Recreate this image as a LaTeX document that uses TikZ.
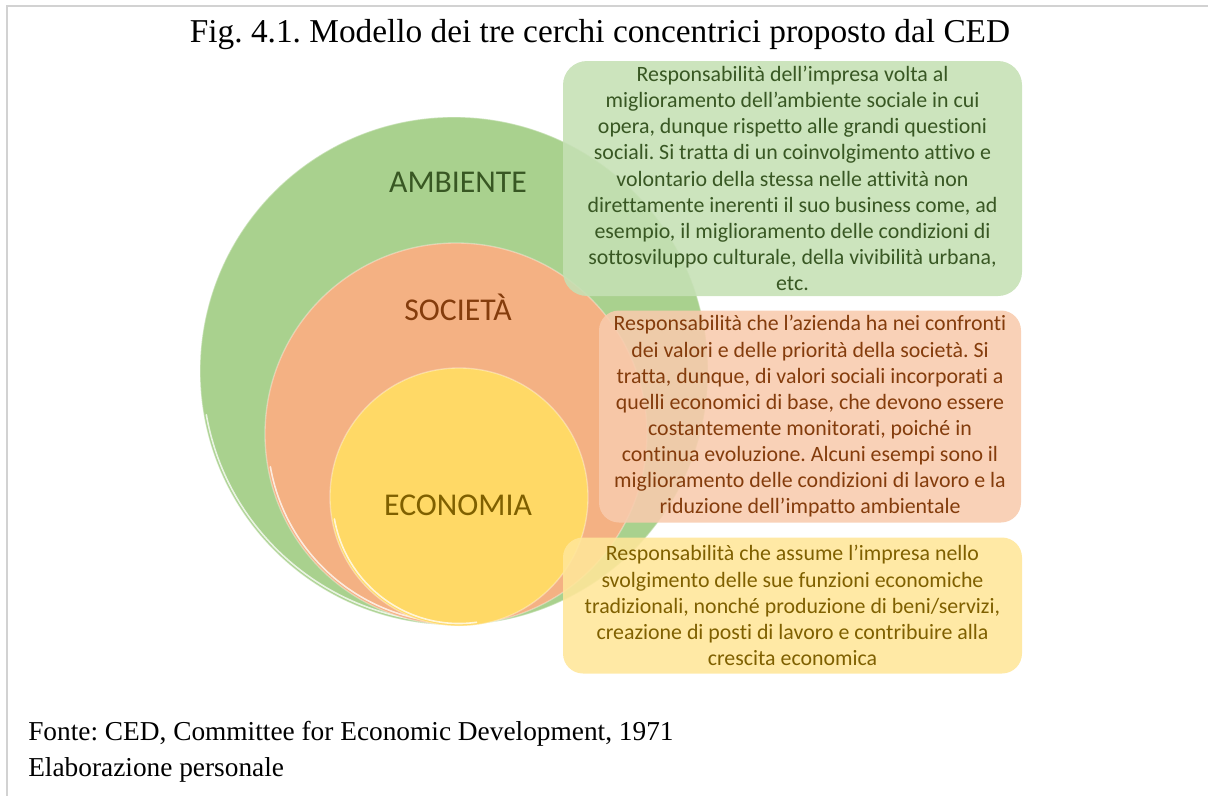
\documentclass[tikz,border=0pt]{standalone}
\usepackage{fontspec}
\setmainfont{Liberation Serif}
\newfontfamily\carlito[Ligatures=NoCommon]{Carlito}
\usetikzlibrary{positioning}
\frenchspacing

% colori dei cerchi (C), dei riquadri (B) e dei testi (T)
\definecolor{verdeC}{HTML}{A9D18E}
\definecolor{verdeB}{HTML}{C5E0B4}
\definecolor{verdeT}{HTML}{385723}
\definecolor{aranC}{HTML}{F4B183}
\definecolor{aranB}{HTML}{F8CBAD}
\definecolor{aranT}{HTML}{843C0C}
\definecolor{gialC}{HTML}{FFD966}
\definecolor{gialB}{HTML}{FFE699}
\definecolor{gialT}{HTML}{7F6000}

\tikzset{
  etichetta/.style={font=\carlito\fontsize{23.8}{28}\selectfont},
  riquadro/.style={rounded corners=18pt, align=center, fill opacity=0.88,
    text opacity=1, inner sep=0pt, font=\carlito\fontsize{16.4}{19.6}\selectfont},
  riflesso/.style={white, line width=1.2pt, opacity=0.75, line cap=round},
}

\begin{document}
\begin{tikzpicture}[x=0.75pt, y=-0.75pt]
\useasboundingbox (0,0) rectangle (1208,796);

% --- Cornice ---
\draw[gray!35, line width=1.2pt] (7,796) -- (7,6) -- (1208,6);

% --- Titolo ---
\node[font=\fontsize{25}{30}\selectfont] (titolo) at (600,35)
  {Fig. 4.1. Modello dei tre cerchi concentrici proposto dal CED};

% --- Cerchi concentrici (tangenti in basso) ---
\foreach \cx/\cy/\r/\col in {454/371/254/verdeC, 456/434/191/aranC, 459/497/129/gialC}{
    \pgfmathsetmacro\rr{\r-2.5}
    \fill[\col] (\cx,\cy) circle (\r);
    \draw[white, opacity=0.35, line width=1pt] (\cx,\cy) circle (\r);
    \draw[riflesso] (\cx,\cy) ++(170:\rr) arc[start angle=170, end angle=82, radius=\rr];
}

% --- Etichette dei cerchi ---
\node[etichetta, text=verdeT] (ambiente) at (458,182) {AMBIENTE};
\node[etichetta, text=aranT] (societa) at (458,307) {SOCIETÀ};
\node[etichetta, text=gialT] (economia) at (458,505) {ECONOMIA};

% --- Riquadri descrittivi ---
\node[riquadro, fill=verdeB, text=verdeT, minimum width=344.25pt, minimum height=176.25pt]
  (descAmb) at (792.5,178.5) {Responsabilità dell’impresa volta al\\
  miglioramento dell’ambiente sociale in cui\\
  opera, dunque rispetto alle grandi questioni\\
  sociali. Si tratta di un coinvolgimento attivo e\\
  volontario della stessa nelle attività non\\
  direttamente inerenti il suo business come, ad\\
  esempio, il miglioramento delle condizioni di\\
  sottosviluppo culturale, della vivibilità urbana,\\
  etc.};

\node[riquadro, rounded corners=15pt, fill=aranB, text=aranT, minimum width=316.5pt, minimum height=159pt]
  (descSoc) at (810,416.5) {Responsabilità che l’azienda ha nei confronti\\
  dei valori e delle priorità della società. Si\\
  tratta, dunque, di valori sociali incorporati a\\
  quelli economici di base, che devono essere\\
  costantemente monitorati, poiché in\\
  continua evoluzione. Alcuni esempi sono il\\
  miglioramento delle condizioni di lavoro e la\\
  riduzione dell’impatto ambientale};

\node[riquadro, rounded corners=15pt, fill=gialB, text=gialT, minimum width=344.25pt, minimum height=102pt]
  (descEco) at (792.5,605.5) {Responsabilità che assume l’impresa nello\\
  svolgimento delle sue funzioni economiche\\
  tradizionali, nonché produzione di beni/servizi,\\
  creazione di posti di lavoro e contribuire alla\\
  crescita economica};

% --- Fonte ---
\node[anchor=base west, inner sep=0pt, font=\fontsize{20.5}{25}\selectfont] (fonte) at (28,740)
  {Fonte: CED, Committee for Economic Development, 1971};
\node[anchor=base west, inner sep=0pt, font=\fontsize{20.5}{25}\selectfont] (elab)
  at ([yshift=-27pt]fonte.base west) {Elaborazione personale};

\end{tikzpicture}
\end{document}
